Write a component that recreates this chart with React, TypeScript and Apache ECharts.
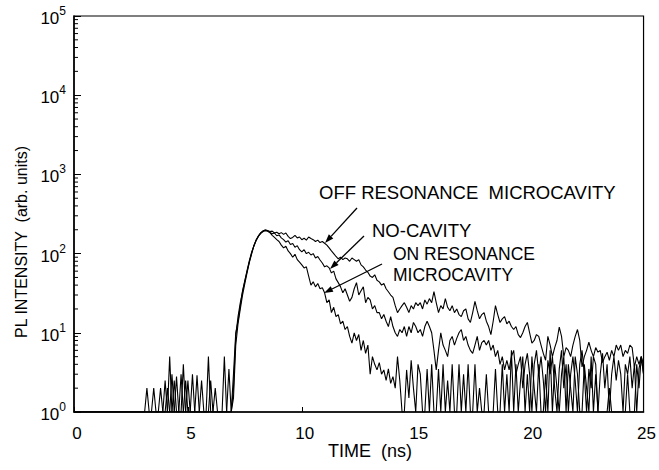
import React, { useEffect, useRef } from "react";
import * as echarts from "echarts";

// Time-resolved photoluminescence decays, sampled every 0.1 ns from 2.8 ns.
const TIME_START = 2.8;
const TIME_STEP = 0.1;

const offResonance = [
  1, 1,
  1, 1, 2, 1, 1, 1, 1, 1, 1, 1,
  2.5, 1, 1, 3, 1, 1, 1, 1, 4, 1,
  1, 1, 3, 1, 1, 1, 1, 1, 1, 5,
  1, 1, 1, 1, 1, 1, 1, 1, 3.5, 1,
  2, 9, 16, 24, 33, 45, 60, 80, 102, 128,
  150, 168, 183, 193, 198, 196, 190, 192, 182, 186,
  178, 184, 175, 182, 165, 155, 160, 170, 158, 162,
  150, 156, 148, 162, 155, 150, 142, 148, 138, 142,
  135, 128, 118, 108, 100, 92, 86, 90, 84, 88,
  86, 80, 88, 84, 80, 84, 72, 68, 62, 58,
  52, 50, 54, 46, 44, 40, 42, 36, 33, 30,
  28, 22, 18, 20, 22, 24, 21, 18, 22, 20,
  24, 22, 24, 20, 26, 23, 27, 24, 33, 24,
  18, 22, 20, 27, 21, 19, 22, 18, 20, 17,
  16, 19, 20, 15, 13.5, 18, 25, 19, 15, 17,
  18, 14, 12, 9.5, 14, 22, 17, 13.5, 15, 16,
  13, 14, 12, 11, 12, 9.5, 8.7, 10, 12, 13.5,
  10, 7.4, 8, 9.5, 9, 7, 5.5, 4.5, 9, 7,
  5, 6.5, 8, 11.8, 9, 5, 6.5, 6, 5, 7,
  9, 11, 8, 3.7, 5, 6, 7.6, 6, 5, 6.5,
  5.7, 6, 4.2, 5, 5.7, 4.5, 6, 5, 7, 6,
  7, 5, 6, 5.5, 7, 6.5, 3.7, 5, 4, 5,
  4,
];

const noCavity = [
  1, 1,
  1, 1, 1, 1, 1, 2, 1, 1, 1, 1,
  1, 1, 5, 1, 1, 2.8, 1, 1, 1, 2.5,
  1, 1, 1, 1, 2.9, 1, 1, 1, 1, 1,
  1, 1, 2, 1, 1, 1, 5, 1, 1, 1,
  3, 10, 14, 22, 34, 46, 62, 82, 105, 125,
  148, 166, 180, 190, 194, 192, 185, 178, 182, 168,
  172, 158, 150, 140, 145, 130, 134, 120, 126, 112,
  105, 112, 100, 104, 96, 100, 88, 92, 83, 76,
  68, 70, 66, 57, 60, 48, 43, 38, 32, 36,
  30, 25, 28, 36, 43, 30, 34, 38, 24, 28,
  26, 20, 22, 18, 18, 15, 17, 14, 12, 16,
  12, 10, 9, 11, 10, 12, 9, 12, 10, 13.5,
  12, 10, 11, 9, 12, 14, 12, 10, 6, 3.4,
  6, 10, 7, 6, 5, 8, 9, 7, 8.5, 10,
  11, 8, 9, 7, 6, 5.5, 7, 9, 6, 7.5,
  8, 7, 8, 6, 7, 5, 6, 4, 5, 3.4,
  4.5, 3.4, 5, 6, 3, 4, 5, 2, 4, 5.5,
  3, 1, 4, 6, 3, 5, 2.5, 1, 4.5, 3,
  5, 2, 1, 3.5, 6, 2, 4, 1, 3, 5,
  2.5, 1, 4, 6, 3, 1, 3.5, 2, 5, 4,
  1, 3, 5.5, 2, 4, 1, 3, 5, 2.5, 4.5,
  3, 1, 4, 3, 5, 2, 4, 1, 3.5, 5,
  3,
];

const onResonance = [
  1, 1,
  1, 1, 1, 1, 1, 1, 1, 1, 2, 1,
  1, 2, 1, 1, 2.5, 1, 1, 3, 1, 1,
  2.5, 1, 1, 1, 1, 1, 2.5, 1, 1, 1,
  2.5, 1, 1, 1, 1, 1, 1, 1, 1, 1,
  1.5, 7, 13, 20, 30, 42, 58, 78, 100, 126,
  148, 168, 184, 194, 198, 194, 184, 170, 160, 150,
  142, 128, 118, 124, 108, 100, 90, 98, 84, 78,
  72, 66, 68, 52, 40, 44, 38, 42, 36, 37,
  32, 24, 26, 18, 21, 16, 17, 13, 14, 11,
  12, 9, 7.4, 10, 8, 9.5, 6, 8, 5.5, 7,
  3, 5, 4, 3.4, 4.2, 3, 3.4, 2.5, 3.5, 2.3,
  2.8, 2, 5, 2.5, 1, 1, 3.4, 1.5, 4.5, 2,
  1, 4, 3, 1, 1, 3.5, 1, 4, 1, 1,
  3.5, 1, 4, 1, 2.5, 1, 4, 1, 1, 4,
  1, 3, 1, 4, 1, 1, 4, 1, 2, 1,
  1, 3, 1, 1, 1, 3.5, 1, 1, 4, 1,
  3, 1, 6, 1, 4, 1, 2.5, 5, 1, 3,
  1, 5, 2, 1, 4, 1, 1, 3, 1, 6,
  1, 4, 2, 1, 3, 5, 1, 4, 2, 1,
  5, 3, 1, 1, 4, 2, 1, 5, 1, 3,
  1, 1, 1, 1, 1, 2, 1, 1, 1, 1,
  1, 1, 1, 3, 1, 1, 1, 4, 2, 5,
  3,
];

const TIME_MIN = 0;
const TIME_MAX = 25;
const TIME_INTERVAL = 5;
const INTENSITY_MIN = 1;
const INTENSITY_MAX = 100000;
const DECADES = [1, 10, 100, 1000, 10000];
const MINOR_MULTIPLIERS = [2, 3, 4, 5, 6, 7, 8, 9];

const FONT = '"Liberation Sans", Arial, Helvetica, sans-serif';

function toPairs(values: number[]): [number, number][] {
  const pts: [number, number][] = [[TIME_MIN, 1]];
  values.forEach((v, i) => {
    const t = Math.round((TIME_START + i * TIME_STEP) * 10) / 10;
    pts.push([t, v]);
  });
  return pts;
}

function arrow(x1: number, y1: number, x2: number, y2: number) {
  const dx = x2 - x1;
  const dy = y2 - y1;
  const len = Math.hypot(dx, dy);
  const ux = dx / len;
  const uy = dy / len;
  const head = 9;
  const half = 3;
  const bx = x2 - ux * head;
  const by = y2 - uy * head;
  return [
    {
      type: "line",
      shape: { x1, y1, x2: bx, y2: by },
      style: { stroke: "#000", lineWidth: 1.3 },
    },
    {
      type: "polygon",
      shape: {
        points: [
          [x2, y2],
          [bx - uy * half, by + ux * half],
          [bx + uy * half, by - ux * half],
        ],
      },
      style: { fill: "#000" },
    },
  ];
}

function label(text: string, x: number, y: number, size = 18.5) {
  return {
    type: "text",
    x,
    y,
    style: {
      text,
      fill: "#000",
      fontSize: size,
      fontFamily: FONT,
      align: "left",
      verticalAlign: "middle",
    },
  };
}

export default function App() {
  const ref = useRef<HTMLDivElement>(null);

  useEffect(() => {
    if (!ref.current) return;
    const chart = echarts.init(ref.current, undefined, { renderer: "svg" });

    const minorTicks: [number, number][] = [];
    DECADES.forEach((d) =>
      MINOR_MULTIPLIERS.forEach((m) => minorTicks.push([TIME_MIN, d * m]))
    );

    const lineSeries = (name: string, values: number[]) => ({
      name,
      type: "line",
      data: toPairs(values),
      showSymbol: false,
      symbol: "none",
      lineStyle: { color: "#000", width: 1.1 },
      z: 2,
    });

    chart.setOption({
      animation: false,
      backgroundColor: "#fff",
      grid: {
        left: 74,
        right: 14,
        top: 16,
        bottom: 58,
        show: true,
        borderColor: "#000",
        borderWidth: 1.2,
      },
      xAxis: {
        type: "value",
        min: TIME_MIN,
        max: TIME_MAX,
        interval: TIME_INTERVAL,
        axisLine: { show: true, lineStyle: { color: "#000", width: 1.5 } },
        axisTick: { show: true, inside: true, length: 5, lineStyle: { color: "#000" } },
        splitLine: { show: false },
        axisLabel: {
          color: "#000",
          fontSize: 17,
          fontFamily: FONT,
          margin: 13,
          padding: [0, 0, 0, 6],
        },
      },
      yAxis: {
        type: "log",
        logBase: 10,
        min: INTENSITY_MIN,
        max: INTENSITY_MAX,
        axisLine: { show: true, lineStyle: { color: "#000", width: 1.5 } },
        axisTick: { show: true, inside: true, length: 7, lineStyle: { color: "#000" } },
        splitLine: { show: false },
        axisLabel: {
          margin: 8,
          formatter: (v: number) => `{b|10}{e|${Math.round(Math.log10(v))}}`,
          rich: {
            b: { fontSize: 17, fontFamily: FONT, color: "#000", padding: [5, 0, 0, 0] },
            e: { fontSize: 12, fontFamily: FONT, color: "#000", verticalAlign: "top" },
          },
        },
      },
      series: [
        lineSeries("OFF RESONANCE MICROCAVITY", offResonance),
        lineSeries("NO-CAVITY", noCavity),
        lineSeries("ON RESONANCE MICROCAVITY", onResonance),
        {
          type: "custom",
          coordinateSystem: "cartesian2d",
          data: minorTicks,
          silent: true,
          clip: false,
          z: 3,
          renderItem: (_params: any, api: any) => {
            const p = api.coord([api.value(0), api.value(1)]);
            return {
              type: "line",
              shape: { x1: p[0], y1: p[1], x2: p[0] + 4, y2: p[1] },
              style: { stroke: "#000", lineWidth: 1 },
            };
          },
        },
      ],
      graphic: [
        {
          type: "text",
          x: 21,
          y: 242,
          rotation: Math.PI / 2,
          style: {
            text: "PL INTENSITY  (arb. units)",
            fill: "#000",
            fontSize: 16,
            fontFamily: FONT,
            align: "center",
            verticalAlign: "middle",
          },
        },
        {
          type: "text",
          x: 370,
          y: 451,
          style: {
            text: "TIME  (ns)",
            fill: "#000",
            fontSize: 18,
            fontFamily: FONT,
            align: "center",
            verticalAlign: "middle",
          },
        },
        label("OFF RESONANCE  MICROCAVITY", 319, 192),
        label("NO-CAVITY", 372, 230),
        label("ON RESONANCE", 393, 254, 17.5),
        label("MICROCAVITY", 393, 275, 17.5),
        ...arrow(357, 208, 325, 243),
        ...arrow(364, 236, 330, 269),
        ...arrow(382, 264, 324, 293),
      ],
    });

    return () => chart.dispose();
  }, []);

  return (
    <div
      ref={ref}
      style={{ position: "fixed", left: 0, top: 0, width: 659, height: 470, background: "#fff" }}
    />
  );
}
